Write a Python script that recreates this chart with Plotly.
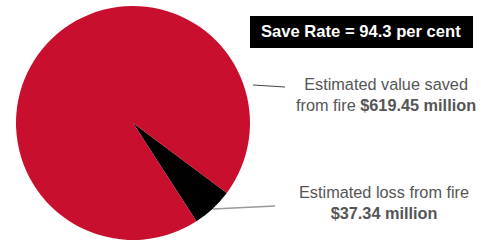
import plotly.graph_objects as go

W, H = 481, 242

categories = ["Estimated loss from fire", "Estimated value saved from fire"]
values = [37.34, 619.45]  # $ millions
colors = ["#000000", "#C8102E"]
save_rate_label = "Save Rate = 94.3 per cent"


def px(x):
    return x / W


def py(y):
    return 1 - y / H


fig = go.Figure()
fig.add_trace(go.Pie(
    labels=categories,
    values=values,
    marker=dict(colors=colors, line=dict(width=0)),
    sort=False,
    direction="clockwise",
    rotation=126.7,
    textinfo="none",
    showlegend=False,
    domain=dict(x=[px(16), px(250)], y=[py(240), py(6)]),
))

font = "Liberation Sans, Arial, sans-serif"

fig.add_shape(type="rect", xref="paper", yref="paper",
              x0=px(250), x1=px(473), y0=py(48), y1=py(16),
              fillcolor="#000000", line=dict(width=0))
fig.add_annotation(xref="paper", yref="paper", x=px(361), y=py(31),
                   text="<b>" + save_rate_label + "</b>", showarrow=False,
                   font=dict(family=font, size=16.6, color="#FFFFFF"),
                   xanchor="center", yanchor="middle")

fig.add_annotation(xref="paper", yref="paper", x=px(386), y=py(94),
                   text="Estimated value saved<br>from fire <b>$%.2f million</b>" % values[1],
                   showarrow=False, align="center",
                   font=dict(family=font, size=16.3, color="#555555"),
                   xanchor="center", yanchor="middle")
fig.add_annotation(xref="paper", yref="paper", x=px(384), y=py(202),
                   text="Estimated loss from fire<br><b>$%.2f million</b>" % values[0],
                   showarrow=False, align="center",
                   font=dict(family=font, size=16.3, color="#555555"),
                   xanchor="center", yanchor="middle")

fig.add_shape(type="line", xref="paper", yref="paper",
              x0=px(253), y0=py(85), x1=px(285), y1=py(87),
              line=dict(color="#444444", width=1))
fig.add_shape(type="line", xref="paper", yref="paper",
              x0=px(213), y0=py(209), x1=px(275), y1=py(206),
              line=dict(color="#999999", width=1.3))

fig.update_layout(width=W, height=H, margin=dict(l=0, r=0, t=0, b=0),
                  paper_bgcolor="#FFFFFF", plot_bgcolor="#FFFFFF")
fig.write_html("out.html", config={"displayModeBar": False})

# remove the default body margin so the figure sits at the window origin
with open("out.html", encoding="utf-8") as f:
    html = f.read()
html = html.replace("<body>", '<body style="margin:0;padding:0;overflow:hidden">', 1)
with open("out.html", "w", encoding="utf-8") as f:
    f.write(html)
